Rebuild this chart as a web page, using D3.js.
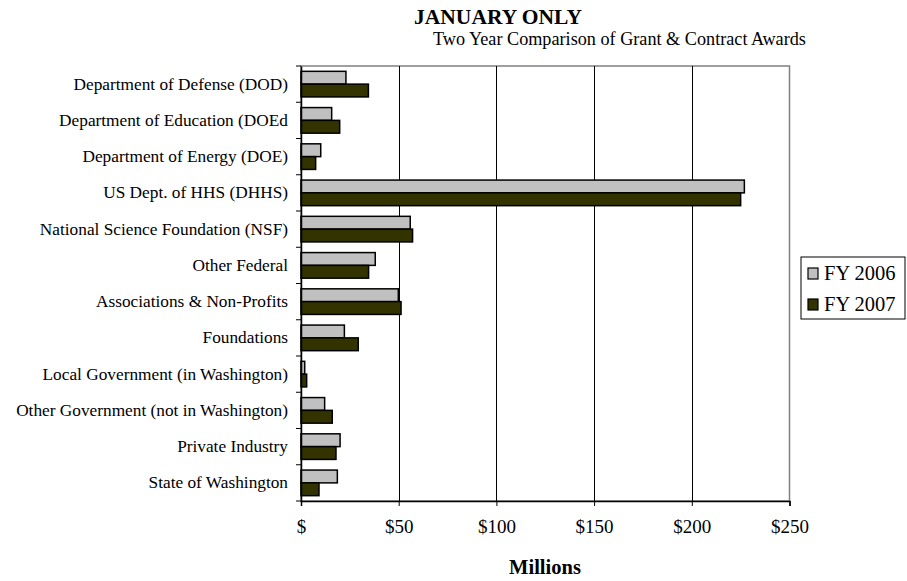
<!DOCTYPE html>
<html lang="en">
<head>
  <meta charset="UTF-8">
  <title>January Only</title>
  <script src="https://cdn.jsdelivr.net/npm/d3@7"></script>
  <style>
    body { margin: 0; background: #fff; }
    text { font-family: "Liberation Serif", "Times New Roman", serif; fill: #000; }
  </style>
</head>
<body>
  <script>
    var w = 907;
    var h = 581;

    var categories = ['Department of Defense (DOD)', 'Department of Education (DOEd',
      'Department of Energy (DOE)', 'US Dept. of HHS (DHHS)', 'National Science Foundation (NSF)',
      'Other Federal', 'Associations & Non-Profits', 'Foundations',
      'Local Government (in Washington)', 'Other Government (not in Washington)',
      'Private Industry', 'State of Washington'];
    var seriesNames = ['FY 2006', 'FY 2007'];
    var fy2006 = [23.0, 15.7, 10.1, 226.9, 55.9, 38.0, 49.8, 22.2, 1.9, 12.1, 20.0, 18.6];
    var fy2007 = [34.5, 19.8, 7.5, 225.0, 57.1, 34.6, 51.2, 29.3, 2.9, 16.0, 17.9, 9.2];
    var xTicks = [0, 50, 100, 150, 200, 250];
    var colors = ['#c0c0c0', '#333300'];

    var pL = 301, pR = 789.5, pT = 66, pB = 501;

    // tabla de filas para el join
    var rows = categories.map(function (c, i) { return { cat: c, vals: [fy2006[i], fy2007[i]] } });

    var x = d3.scaleLinear().domain([0, 250]).range([pL, pR]);
    var y0 = d3.scaleBand().domain(categories).range([pT, pB]).padding(0);
    var y1 = d3.scaleBand().domain(seriesNames).range([0, y0.bandwidth()]).paddingInner(0).paddingOuter(0.416);

    var svg = d3.select('body').append('svg').attr('width', w).attr('height', h);

    // titulos
    svg.append('text').attr('x', 498).attr('y', 24).attr('text-anchor', 'middle')
      .attr('font-size', '21.5px').attr('font-weight', 'bold').text('JANUARY ONLY');
    svg.append('text').attr('x', 433).attr('y', 45)
      .attr('font-size', '18.2px').text('Two Year Comparison of Grant & Contract Awards');

    // borde del area
    svg.append('rect').attr('x', pL).attr('y', pT).attr('width', pR - pL).attr('height', pB - pT)
      .attr('fill', 'none').attr('stroke', '#808080').attr('stroke-width', 1.5);

    // lineas de cuadricula
    svg.selectAll('line.grid').data(xTicks.slice(1, -1)).enter().append('line')
      .attr('class', 'grid')
      .attr('x1', function (d) { return Math.round(x(d)) + 0.5 }).attr('x2', function (d) { return Math.round(x(d)) + 0.5 })
      .attr('y1', pT).attr('y2', pB)
      .attr('stroke', '#000').attr('stroke-width', 1);

    // barras
    var groups = svg.selectAll('g.cat').data(rows).enter().append('g')
      .attr('class', 'cat')
      .attr('transform', function (d) { return 'translate(0,' + y0(d.cat) + ')' });
    groups.selectAll('rect').data(function (d) {
      return d.vals.map(function (v, j) { return { s: seriesNames[j], v: v, j: j } })
    }).enter().append('rect')
      .attr('x', x(0))
      .attr('y', function (d) { return y1(d.s) })
      .attr('width', function (d) { return x(d.v) - x(0) })
      .attr('height', y1.bandwidth())
      .attr('fill', function (d) { return colors[d.j] })
      .attr('stroke', '#000').attr('stroke-width', 1.5);

    // eje x
    var xAxis = d3.axisBottom(x).tickValues(xTicks).tickSize(5).tickPadding(14)
      .tickFormat(function (d) { return d === 0 ? '$' : '$' + d });
    var gx = svg.append('g').attr('transform', 'translate(0,' + pB + ')').call(xAxis);
    gx.select('.domain').attr('stroke', '#000').attr('stroke-width', 1.5);
    gx.selectAll('.tick line').attr('stroke', '#000');
    gx.selectAll('.tick text').attr('font-family', '"Liberation Serif", serif').attr('font-size', '19px').attr('fill', '#000');

    // eje y
    var yAxis = d3.axisLeft(y0).tickSize(0).tickPadding(13);
    var gy = svg.append('g').attr('transform', 'translate(' + pL + ',0)').call(yAxis);
    gy.select('.domain').attr('stroke', '#000').attr('stroke-width', 1.5);
    gy.selectAll('.tick text').attr('font-family', '"Liberation Serif", serif').attr('font-size', '17.3px').attr('fill', '#000');
    // marcas entre categorias
    gy.selectAll('line.sep').data(categories.concat(['end'])).enter().append('line')
      .attr('class', 'sep')
      .attr('x1', -5).attr('x2', 0)
      .attr('y1', function (d, i) { return pT + i * y0.step() })
      .attr('y2', function (d, i) { return pT + i * y0.step() })
      .attr('stroke', '#000');

    svg.append('text').attr('x', 545).attr('y', 574).attr('text-anchor', 'middle')
      .attr('font-size', '20.5px').attr('font-weight', 'bold').text('Millions');

    // leyenda
    var lg = svg.append('g').attr('transform', 'translate(801,257)');
    lg.append('rect').attr('width', 104).attr('height', 62).attr('fill', '#fff').attr('stroke', '#000');
    var items = lg.selectAll('g.item').data(seriesNames).enter().append('g')
      .attr('class', 'item')
      .attr('transform', function (d, i) { return 'translate(7,' + (11 + i * 31) + ')' });
    items.append('rect').attr('width', 10).attr('height', 11)
      .attr('fill', function (d, i) { return colors[i] }).attr('stroke', '#000').attr('stroke-width', 1.2);
    items.append('text').attr('x', 16).attr('y', 12).attr('font-size', '20.5px').text(function (d) { return d });
  </script>
</body>
</html>
